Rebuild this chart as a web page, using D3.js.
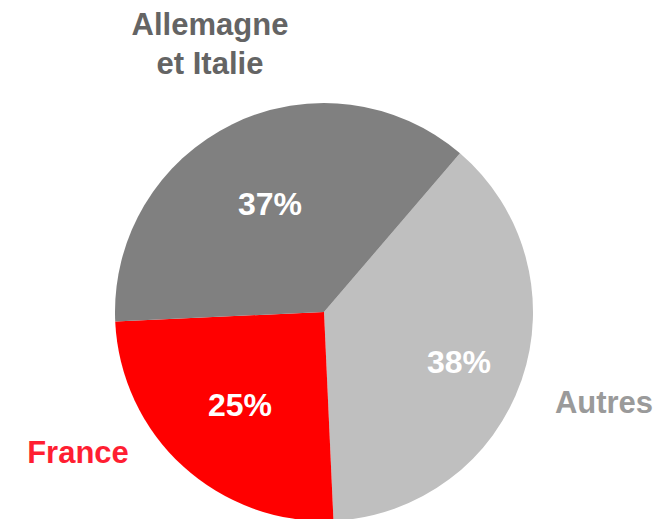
<!DOCTYPE html>
<html>
<head>
<meta charset="utf-8">
<script src="https://cdn.jsdelivr.net/npm/d3@7"></script>
<style>
  html, body { margin: 0; padding: 0; background: #ffffff; }
  svg { display: block; font-family: "Liberation Sans", Arial, sans-serif; font-weight: bold; }
</style>
</head>
<body>
<svg id="chart" width="671" height="519"></svg>
<script>
// Répartition par zone
const categories = ["Autres", "France", "Allemagne et Italie"];
const shares = [38, 25, 37];
const sliceColors = ["#bfbfbf", "#ff0000", "#808080"];
const nameColors = ["#9a9a9a", "#ff1e32", "#646464"];

const width = 671, height = 519;
const cx = 324, cy = 312, radius = 209;
const startDeg = 40.6;

const svg = d3.select("#chart");
const g = svg.append("g").attr("transform", `translate(${cx},${cy})`);

const data = categories.map((c, i) => ({ name: c, value: shares[i], color: sliceColors[i], nameColor: nameColors[i] }));

const pie = d3.pie()
  .sort(null)
  .value(d => d.value)
  .startAngle(startDeg * Math.PI / 180)
  .endAngle(startDeg * Math.PI / 180 + 2 * Math.PI);

const arc = d3.arc().innerRadius(0).outerRadius(radius);
const arcs = pie(data);

g.selectAll("path.slice")
  .data(arcs)
  .join("path")
  .attr("class", "slice")
  .attr("d", arc)
  .attr("fill", d => d.data.color);

// Percent labels inside the slices
const pctPos = { "Autres": [135, 61], "France": [-84, 104], "Allemagne et Italie": [-54, -97] };
g.selectAll("text.pct")
  .data(arcs)
  .join("text")
  .attr("class", "pct")
  .attr("x", d => pctPos[d.data.name][0])
  .attr("y", d => pctPos[d.data.name][1])
  .attr("text-anchor", "middle")
  .attr("fill", "#ffffff")
  .attr("font-size", 32)
  .text(d => d3.format(".0%")(d.data.value / 100));

// Category names outside the pie
const namePos = {
  "Autres": { x: 604, y: 413, lines: ["Autres"] },
  "France": { x: 78, y: 463, lines: ["France"] },
  "Allemagne et Italie": { x: 210, y: 35, lines: ["Allemagne", "et Italie"] }
};
data.forEach(d => {
  const p = namePos[d.name];
  const t = svg.append("text")
    .attr("x", p.x)
    .attr("y", p.y)
    .attr("text-anchor", "middle")
    .attr("fill", d.nameColor)
    .attr("font-size", 31);
  p.lines.forEach((ln, i) => {
    t.append("tspan").attr("x", p.x).attr("dy", i === 0 ? 0 : 39).text(ln);
  });
});
</script>
</body>
</html>
